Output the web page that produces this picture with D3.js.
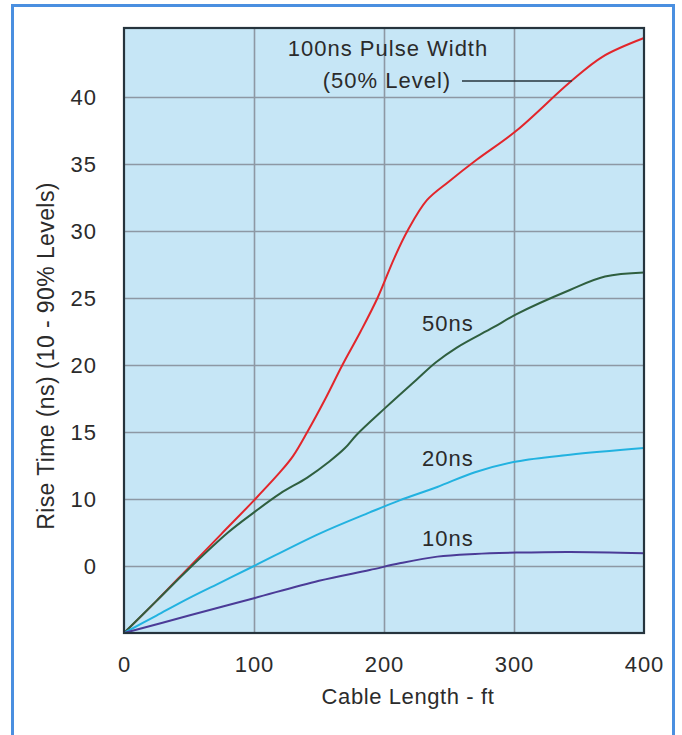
<!DOCTYPE html>
<html>
<head>
<meta charset="utf-8">
<script src="https://cdn.jsdelivr.net/npm/d3@7/dist/d3.min.js"></script>
<style>
  html, body { margin: 0; padding: 0; background: #ffffff; }
  svg text { font-family: "Liberation Sans", Arial, Helvetica, sans-serif; fill: #2b2b2b; }
</style>
</head>
<body>
<script>
// ---- Data ----
const xTickValues = [0, 100, 200, 300, 400];
const xTickLabels = ["0", "100", "200", "300", "400"];
const yTickValues = [5, 10, 15, 20, 25, 30, 35, 40];
const yTickLabels = ["0", "10", "15", "20", "25", "30", "35", "40"];

const seriesNames = ["100ns", "50ns", "20ns", "10ns"];

const pulse100 = [[0,0],[25,2.4],[50,4.9],[75,7.4],[100,9.9],[120,12.0],[130,13.2],[141,15.0],[155,17.5],[168,20.0],[182,22.5],[195,25.0],[208,28.0],[218,30.0],[233,32.3],[250,33.7],[271,35.3],[302,37.5],[343,41.1],[368,43.0],[400,44.4]];
const pulse50  = [[0,0],[25,2.4],[50,4.8],[80,7.5],[100,9.0],[120,10.4],[141,11.6],[158,12.8],[170,13.8],[179,14.8],[201,16.8],[225,18.9],[240,20.2],[256,21.3],[284,22.8],[302,23.8],[343,25.6],[370,26.6],[400,26.9]];
const pulse20  = [[0,0],[25,1.3],[50,2.6],[75,3.8],[100,5.0],[150,7.4],[189,9.0],[212,9.9],[241,10.9],[270,12.0],[302,12.8],[343,13.3],[400,13.8]];
const pulse10  = [[0,0],[50,1.3],[100,2.6],[150,3.9],[189,4.7],[212,5.2],[241,5.7],[270,5.9],[302,6.0],[343,6.05],[400,5.95]];

const seriesData = [pulse100, pulse50, pulse20, pulse10];
const seriesColors = ["#e2262b", "#2f5f3f", "#22b2e0", "#4b3b97"];

const xTitle = "Cable Length - ft";
const yTitle = "Rise Time (ns) (10 - 90% Levels)";
const annotLine1 = "100ns Pulse Width";
const annotLine2 = "(50% Level)";

// ---- Drawing ----
const W = 682, H = 735;
const plot = { left: 124, right: 644, top: 28, bottom: 633 };

const svg = d3.select("body").append("svg")
  .attr("width", W).attr("height", H);

// outer frame
svg.append("rect")
  .attr("x", 12.5).attr("y", 5.5)
  .attr("width", 661).attr("height", 780)
  .attr("fill", "#ffffff")
  .attr("stroke", "#4a8fe0").attr("stroke-width", 3);

const x = d3.scaleLinear().domain([0, 400]).range([plot.left, plot.right]);
const y = d3.scaleLinear().domain([0, 45.15]).range([plot.bottom, plot.top]);

// plot background
svg.append("rect")
  .attr("x", plot.left).attr("y", plot.top)
  .attr("width", plot.right - plot.left).attr("height", plot.bottom - plot.top)
  .attr("fill", "#c6e6f6");

// grid lines via axes
const gx = svg.append("g")
  .attr("transform", `translate(0,${plot.bottom})`)
  .call(d3.axisBottom(x).tickValues(xTickValues.slice(1, -1))
    .tickSize(-(plot.bottom - plot.top)).tickFormat(""));
gx.select(".domain").remove();
gx.selectAll("line").attr("stroke", "#8d98a4").attr("stroke-width", 1.6);

const gy = svg.append("g")
  .attr("transform", `translate(${plot.left},0)`)
  .call(d3.axisLeft(y).tickValues(yTickValues)
    .tickSize(-(plot.right - plot.left)).tickFormat(""));
gy.select(".domain").remove();
gy.selectAll("line").attr("stroke", "#8d98a4").attr("stroke-width", 1.6);

// curves
const line = d3.line()
  .x(d => x(d[0])).y(d => y(d[1]))
  .curve(d3.curveCatmullRom.alpha(0.5));

svg.append("g").selectAll("path")
  .data(seriesData)
  .join("path")
  .attr("d", d => line(d))
  .attr("fill", "none")
  .attr("stroke", (d, i) => seriesColors[i])
  .attr("stroke-width", 2)
  .attr("stroke-linejoin", "round");

// plot border
svg.append("rect")
  .attr("x", plot.left).attr("y", plot.top)
  .attr("width", plot.right - plot.left).attr("height", plot.bottom - plot.top)
  .attr("fill", "none")
  .attr("stroke", "#26343d").attr("stroke-width", 2.2);

// tick labels
const xAxisLabels = svg.append("g")
  .attr("transform", `translate(0,${plot.bottom})`)
  .call(d3.axisBottom(x).tickValues(xTickValues).tickSize(0)
    .tickFormat((d, i) => xTickLabels[i]).tickPadding(23));
xAxisLabels.select(".domain").remove();
xAxisLabels.selectAll("text")
  .attr("font-size", 22).attr("fill", "#2b2b2b")
  .style("letter-spacing", "1px")
  .style("font-family", '"Liberation Sans", Arial, sans-serif');

const yAxisLabels = svg.append("g")
  .attr("transform", `translate(${plot.left},0)`)
  .call(d3.axisLeft(y).tickValues(yTickValues).tickSize(0)
    .tickFormat((d, i) => yTickLabels[i]).tickPadding(27));
yAxisLabels.select(".domain").remove();
yAxisLabels.selectAll("text")
  .attr("font-size", 22).attr("fill", "#2b2b2b")
  .style("letter-spacing", "1px")
  .style("font-family", '"Liberation Sans", Arial, sans-serif');

// axis titles
svg.append("text")
  .attr("x", 408).attr("y", 704)
  .attr("text-anchor", "middle")
  .attr("font-size", 22)
  .style("letter-spacing", "0.6px")
  .text(xTitle);

svg.append("text")
  .attr("transform", `translate(54,356) rotate(-90)`)
  .attr("text-anchor", "middle")
  .attr("font-size", 23)
  .style("letter-spacing", "0.4px")
  .text(yTitle);

// annotations
svg.append("text")
  .attr("x", 388).attr("y", 56)
  .attr("text-anchor", "middle")
  .attr("font-size", 22)
  .style("letter-spacing", "1px")
  .text(annotLine1);
svg.append("text")
  .attr("x", 387).attr("y", 88)
  .attr("text-anchor", "middle")
  .attr("font-size", 22)
  .style("letter-spacing", "1px")
  .text(annotLine2);
svg.append("line")
  .attr("x1", 462).attr("x2", 572)
  .attr("y1", 81).attr("y2", 81)
  .attr("stroke", "#26343d").attr("stroke-width", 1.6);

// series labels
const seriesLabelPos = [null, [422, 331], [422, 466], [422, 546]];
seriesNames.forEach((name, i) => {
  if (!seriesLabelPos[i]) return;
  svg.append("text")
    .attr("x", seriesLabelPos[i][0]).attr("y", seriesLabelPos[i][1])
    .attr("font-size", 22)
    .style("letter-spacing", "1px")
    .text(name);
});
</script>
</body>
</html>
